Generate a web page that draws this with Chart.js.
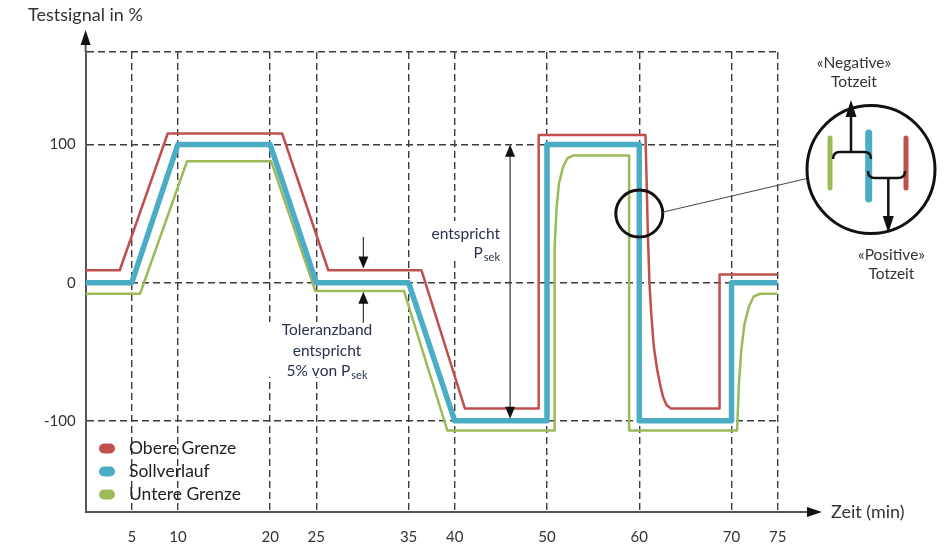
<!DOCTYPE html>
<html lang="de">
<head>
<meta charset="utf-8">
<title>Testsignal</title>
<script src="https://cdn.jsdelivr.net/npm/chart.js@4.4.1/dist/chart.umd.min.js"></script>
<style>
  html, body { margin: 0; padding: 0; background: #fff; }
  #wrap { width: 944px; height: 545px; }
</style>
</head>
<body>
<div id="wrap"><canvas id="testsignalChart" width="944" height="545"></canvas></div>
<script>
// Achsen
const xTicks = [5, 10, 20, 25, 35, 40, 50, 60, 70, 75];
const yTicks = [-100, 0, 100, 167];
const yTickLabels = ['-100', '0', '100', ''];

// Sollverlauf (min / %)
const sollZeit = [0, 5, 10, 20, 25, 35, 40, 50, 50, 60, 60, 70, 70, 75];
const sollWert = [0, 0, 100, 100, 0, 0, -100, -100, 100, 100, -100, -100, 0, 0];

// Obere Grenze
const obereZeit = [0, 3.7, 8.9, 21.3, 26.3, 36.4, 41.1, 49.1, 49.1, 60.67, 60.75, 60.92, 61.1, 61.29, 61.57, 61.94, 62.3, 62.59, 62.95, 63.4, 68.7, 68.7, 75];
const obereWert = [9, 9, 108, 108, 9, 9, -91, -91, 107, 107, 86, 38, 0, -22, -46, -63, -75, -83, -88.5, -91, -91, 6, 6];

// Untere Grenze
const untereZeit = [0, 5.9, 11, 20.1, 24.9, 34.5, 39.2, 50.8, 50.8, 50.85, 51.05, 51.3, 51.75, 52.2, 52.8, 58.9, 58.9, 70.6, 70.8, 71.05, 71.4, 71.9, 72.4, 73.1, 75];
const untereWert = [-8, -8, 88, 88, -6, -6, -107, -107, -20, 25, 55, 72, 84, 90, 92, 92, -107, -107, -73, -49, -30, -17, -10, -8, -8];

const RED = '#c0504d', BLUE = '#4bacc6', GREEN = '#9bbb59';
const TEXT = '#333333', NOTE = '#26324f';

const toPoints = (xs, ys) => xs.map((x, i) => ({x: x, y: ys[i]}));

const arrowHead = (ctx, x, y, dx, dy, len, half) => {
    ctx.beginPath();
    ctx.moveTo(x, y);
    ctx.lineTo(x - dx * len - dy * half, y - dy * len + dx * half);
    ctx.lineTo(x - dx * len + dy * half, y - dy * len - dx * half);
    ctx.closePath();
    ctx.fill();
};

const withSub = (ctx, main, sub, x, y, align) => {
    ctx.font = '15.5px Lato';
    const wm = ctx.measureText(main).width;
    ctx.font = '11px Lato';
    const ws = ctx.measureText(sub).width;
    const total = wm + ws + 1;
    let x0 = x;
    if (align === 'right') x0 = x - total;
    if (align === 'center') x0 = x - total / 2;
    ctx.textAlign = 'left';
    ctx.font = '15.5px Lato';
    ctx.fillText(main, x0, y);
    ctx.font = '11px Lato';
    ctx.fillText(sub, x0 + wm + 1, y + 4);
};

const annotations = {
    id: 'annotations',
    beforeDatasetsDraw(chart) {
        // weisse Textfelder ueber dem Raster
        const ctx = chart.ctx;
        ctx.save();
        ctx.fillStyle = '#fff';
        ctx.fillRect(262, 322, 130, 55);
        ctx.fillRect(420, 221, 85, 40);
        ctx.restore();
    },
    afterDraw(chart) {
        const ctx = chart.ctx;
        const xs = chart.scales.x, ys = chart.scales.y;
        const {left, right, top, bottom} = chart.chartArea;
        ctx.save();

        // Achsen verlaengern + Pfeile
        ctx.strokeStyle = '#555';
        ctx.lineWidth = 2;
        ctx.beginPath(); ctx.moveTo(left, top); ctx.lineTo(left, 44); ctx.stroke();
        ctx.beginPath(); ctx.moveTo(right, bottom); ctx.lineTo(808, bottom); ctx.stroke();
        ctx.fillStyle = '#111';
        arrowHead(ctx, left, 30, 0, -1, 15, 5);
        arrowHead(ctx, 822, bottom, 1, 0, 15, 5);

        ctx.fillStyle = TEXT;
        ctx.font = '18px Lato';
        ctx.textBaseline = 'middle';
        ctx.textAlign = 'left';
        ctx.fillText('Testsignal in %', 28, 15);
        ctx.fillText('Zeit (min)', 831, bottom);

        // Toleranzband-Pfeile
        ctx.strokeStyle = '#333';
        ctx.fillStyle = '#111';
        ctx.lineWidth = 1.2;
        const xt = xs.getPixelForValue(30.1);
        ctx.beginPath(); ctx.moveTo(xt, ys.getPixelForValue(33)); ctx.lineTo(xt, ys.getPixelForValue(18)); ctx.stroke();
        arrowHead(ctx, xt, ys.getPixelForValue(10.3), 0, 1, 12, 5);
        ctx.beginPath(); ctx.moveTo(xt, ys.getPixelForValue(-29)); ctx.lineTo(xt, ys.getPixelForValue(-14)); ctx.stroke();
        arrowHead(ctx, xt, ys.getPixelForValue(-6.5), 0, -1, 12, 5);

        // Psek Doppelpfeil
        const xp = xs.getPixelForValue(46);
        ctx.beginPath(); ctx.moveTo(xp, ys.getPixelForValue(92)); ctx.lineTo(xp, ys.getPixelForValue(-90)); ctx.stroke();
        arrowHead(ctx, xp, ys.getPixelForValue(99.8), 0, -1, 12, 5);
        arrowHead(ctx, xp, ys.getPixelForValue(-98.5), 0, 1, 12, 5);

        // Texte
        ctx.fillStyle = NOTE;
        ctx.textBaseline = 'middle';
        ctx.font = '15.5px Lato';
        ctx.textAlign = 'right';
        ctx.fillText('entspricht', 500, 234);
        withSub(ctx, 'P', 'sek', 500, 253, 'right');
        ctx.font = '15.5px Lato';
        ctx.textAlign = 'center';
        ctx.fillText('Toleranzband', 327, 330);
        ctx.fillText('entspricht', 327, 351);
        withSub(ctx, '5% von P', 'sek', 327, 371, 'center');

        // Lupe
        ctx.strokeStyle = '#111';
        ctx.lineWidth = 3;
        const cx = xs.getPixelForValue(60), cy = ys.getPixelForValue(50);
        ctx.beginPath(); ctx.arc(cx, cy, 23.5, 0, Math.PI * 2); ctx.stroke();
        ctx.lineWidth = 1;
        ctx.strokeStyle = '#444';
        ctx.beginPath(); ctx.moveTo(cx + 23.5, cy - 1.5); ctx.lineTo(807, 178.5); ctx.stroke();
        ctx.strokeStyle = '#111';
        ctx.lineWidth = 3;
        ctx.beginPath(); ctx.arc(871, 169.5, 64, 0, Math.PI * 2); ctx.stroke();

        ctx.lineCap = 'round';
        ctx.lineWidth = 5;
        ctx.strokeStyle = GREEN;
        ctx.beginPath(); ctx.moveTo(830, 138); ctx.lineTo(830, 188); ctx.stroke();
        ctx.strokeStyle = RED;
        ctx.beginPath(); ctx.moveTo(906, 138); ctx.lineTo(906, 188); ctx.stroke();
        ctx.lineWidth = 7;
        ctx.strokeStyle = BLUE;
        ctx.beginPath(); ctx.moveTo(868.7, 133); ctx.lineTo(868.7, 199); ctx.stroke();

        ctx.lineCap = 'butt';
        ctx.strokeStyle = '#111';
        ctx.lineWidth = 2.5;
        ctx.beginPath();
        ctx.moveTo(833, 159);
        ctx.quadraticCurveTo(833, 152, 840, 152);
        ctx.lineTo(864, 152);
        ctx.quadraticCurveTo(871, 152, 871, 159);
        ctx.stroke();
        ctx.beginPath(); ctx.moveTo(851, 152); ctx.lineTo(851, 115); ctx.stroke();
        ctx.fillStyle = '#111';
        arrowHead(ctx, 851, 100, 0, -1, 17, 5.5);

        ctx.beginPath();
        ctx.moveTo(868, 171);
        ctx.quadraticCurveTo(868, 178, 875, 178);
        ctx.lineTo(898, 178);
        ctx.quadraticCurveTo(905, 178, 905, 171);
        ctx.stroke();
        ctx.beginPath(); ctx.moveTo(888.3, 178); ctx.lineTo(888.3, 218); ctx.stroke();
        arrowHead(ctx, 888.3, 233, 0, 1, 17, 5.5);

        ctx.fillStyle = TEXT;
        ctx.font = '15.5px Lato';
        ctx.textAlign = 'center';
        ctx.fillText('\u00abNegative\u00bb', 854, 63);
        ctx.fillText('Totzeit', 854, 82);
        ctx.fillText('\u00abPositive\u00bb', 891.5, 255);
        ctx.fillText('Totzeit', 891.5, 274);

        // Legende
        chart.data.datasets.forEach((ds, i) => {
            const y = 448.5 + i * 23;
            ctx.fillStyle = ds.borderColor;
            ctx.beginPath();
            ctx.roundRect(99, y - 5, 16, 10, 5);
            ctx.fill();
            ctx.fillStyle = '#222';
            ctx.font = '17.5px Lato';
            ctx.textAlign = 'left';
            ctx.fillText(ds.label, 129, y);
        });

        ctx.restore();
    }
};

const chart = new Chart(document.getElementById('testsignalChart'), {
    type: 'line',
    data: {
        datasets: [{
            label: 'Obere Grenze',
            data: toPoints(obereZeit, obereWert),
            borderColor: RED,
            borderWidth: 2.5,
            order: 2
        }, {
            label: 'Sollverlauf',
            data: toPoints(sollZeit, sollWert),
            borderColor: BLUE,
            borderWidth: 5.5,
            borderJoinStyle: 'round',
            order: 1
        }, {
            label: 'Untere Grenze',
            data: toPoints(untereZeit, untereWert),
            borderColor: GREEN,
            borderWidth: 2.5,
            order: 3
        }]
    },
    options: {
        responsive: false,
        devicePixelRatio: 1,
        animation: false,
        events: [],
        layout: {padding: {top: 52, right: 166.3, left: 0, bottom: 0}},
        elements: {
            point: {radius: 0},
            line: {tension: 0, fill: false, borderJoinStyle: 'round'}
        },
        plugins: {
            legend: {display: false},
            tooltip: {enabled: false}
        },
        scales: {
            x: {
                type: 'linear',
                min: 0,
                max: 75,
                afterFit: s => { s.height = 33; },
                afterBuildTicks: s => { s.ticks = xTicks.map(v => ({value: v})); },
                ticks: {
                    padding: 16,
                    color: TEXT,
                    font: {family: 'Lato', size: 15},
                    maxRotation: 0,
                    autoSkip: false
                },
                grid: {color: '#3c3c3c', lineWidth: 1.4, drawTicks: false},
                border: {color: '#555', width: 2, dash: [7, 4]}
            },
            y: {
                min: -166,
                max: 167,
                afterFit: s => { s.width = 85.6; },
                afterBuildTicks: s => { s.ticks = yTicks.map(v => ({value: v})); },
                ticks: {
                    padding: 10,
                    color: TEXT,
                    font: {family: 'Lato', size: 15},
                    autoSkip: false,
                    callback: v => yTickLabels[yTicks.indexOf(v)]
                },
                grid: {color: '#3c3c3c', lineWidth: 1.4, drawTicks: false},
                border: {color: '#555', width: 2, dash: [7, 4]}
            }
        }
    },
    plugins: [annotations]
});
</script>
</body>
</html>
